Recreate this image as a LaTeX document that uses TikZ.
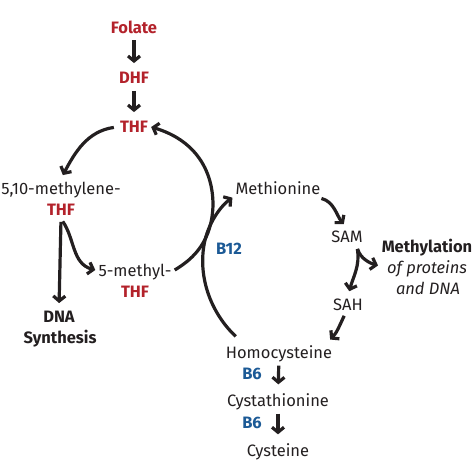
\documentclass[tikz,border=0pt]{standalone}
\usepackage{fontspec}
\setmainfont{Fira Sans}
\usetikzlibrary{arrows.meta}
\definecolor{folred}{HTML}{B3222B}
\definecolor{vitblue}{HTML}{1C5A96}
\definecolor{ink}{HTML}{231F20}
\newcommand{\Flow}[2]{\draw [arc,shorten <=4pt,shorten >=6pt] (#1) -- (#2);}

\begin{document}
\begin{tikzpicture}
[x=1pt,y=1pt,
 arc/.style={-{Straight Barb[length=5pt,width=12pt]},line width=3.2pt,draw=ink},
 chem/.style={font=\fontsize{16.5}{20}\selectfont,text=ink,inner sep=3pt,text depth=0pt},
 fol/.style={chem,font=\fontsize{16.5}{20}\selectfont\bfseries,text=folred},
 vit/.style={chem,font=\fontsize{16.5}{20}\selectfont\bfseries,text=vitblue},
 result/.style={chem,font=\fontsize{16.5}{20}\selectfont\bfseries},
 note/.style={chem,font=\fontsize{16.5}{20}\selectfont\itshape},]

\useasboundingbox (0,0) rectangle (474,-474);

% folate cycle
\node [fol] at (134,-27) (folate) {Folate};
\node [fol] at (134,-78) (dhf) {DHF};
\node [fol] at (134,-127) (thf) {THF};
\node [chem] at (61,-188) (mlene) {5,10-methylene-};
\node [fol] at (61,-210) (mlthf) {THF};
\node [result] at (59,-317) (dna) {DNA};
\node [result] at (60,-337) (synth) {Synthesis};
\node [chem] at (135,-270) (mthyl) {5-methyl-};
\node [fol] at (135,-292) (mthf) {THF};
\node [vit] at (229,-249) (b12) {B12};

% methionine cycle
\node [chem] at (278,-188) (meth) {Methionine};
\node [chem] at (347,-237) (sam) {SAM};
\node [result] at (427,-246) (mtn) {Methylation};
\node [note] at (427,-267) (prot) {of proteins};
\node [note] at (428,-288) (pdna) {and DNA};
\node [chem] at (348,-305) (sah) {SAH};
\node [chem] at (279,-352) (homocys) {Homocysteine};
\node [vit] at (252,-374) (b6a) {B6};
\node [chem] at (278,-400) (cysta) {Cystathionine};
\node [vit] at (252,-423) (b6b) {B6};
\node [chem] at (278,-450) (cyst) {Cysteine};

\Flow{folate}{dhf}
\Flow{dhf}{thf}
\draw [arc,shorten <=3pt,shorten >=4pt] (thf.west) to [out=188,in=62] (mlene.north);
\draw [arc,shorten <=3pt,shorten >=5pt] (mlthf.south) -- (dna.north);
\draw [arc,shorten <=3pt] (mlthf.south) to [out=-55,in=165] (mthyl.west);
\draw [arc] (mthyl.east) .. controls (195,-258) and (212,-240) .. (213,-205)
  .. controls (213,-170) and (195,-140) .. (thf.east);
\draw [arc] ([xshift=13pt,yshift=6pt]homocys.north west) .. controls (210,-312) and (197,-275) .. (205,-240)
  .. controls (210,-220) and (222,-205) .. (meth.south west);
\draw [arc,shorten <=3pt,shorten >=5pt] ([xshift=-5pt]meth.south east) to [out=-15,in=130] (sam.north);
\draw [arc,shorten <=3pt,shorten >=6pt] ([xshift=-9pt]sam.south east) to [out=-75,in=165] (prot.west);
\draw [arc,shorten <=3pt,shorten >=5pt] ([xshift=-9pt]sam.south east) to [out=-80,in=75] (sah.north);
\draw [arc,shorten <=2pt,shorten >=4pt] ([xshift=-3pt]sah.south) to [out=-115,in=45] ([xshift=-8pt]homocys.north east);
\Flow{homocys}{cysta}
\Flow{cysta}{cyst}
\end{tikzpicture}
\end{document}
